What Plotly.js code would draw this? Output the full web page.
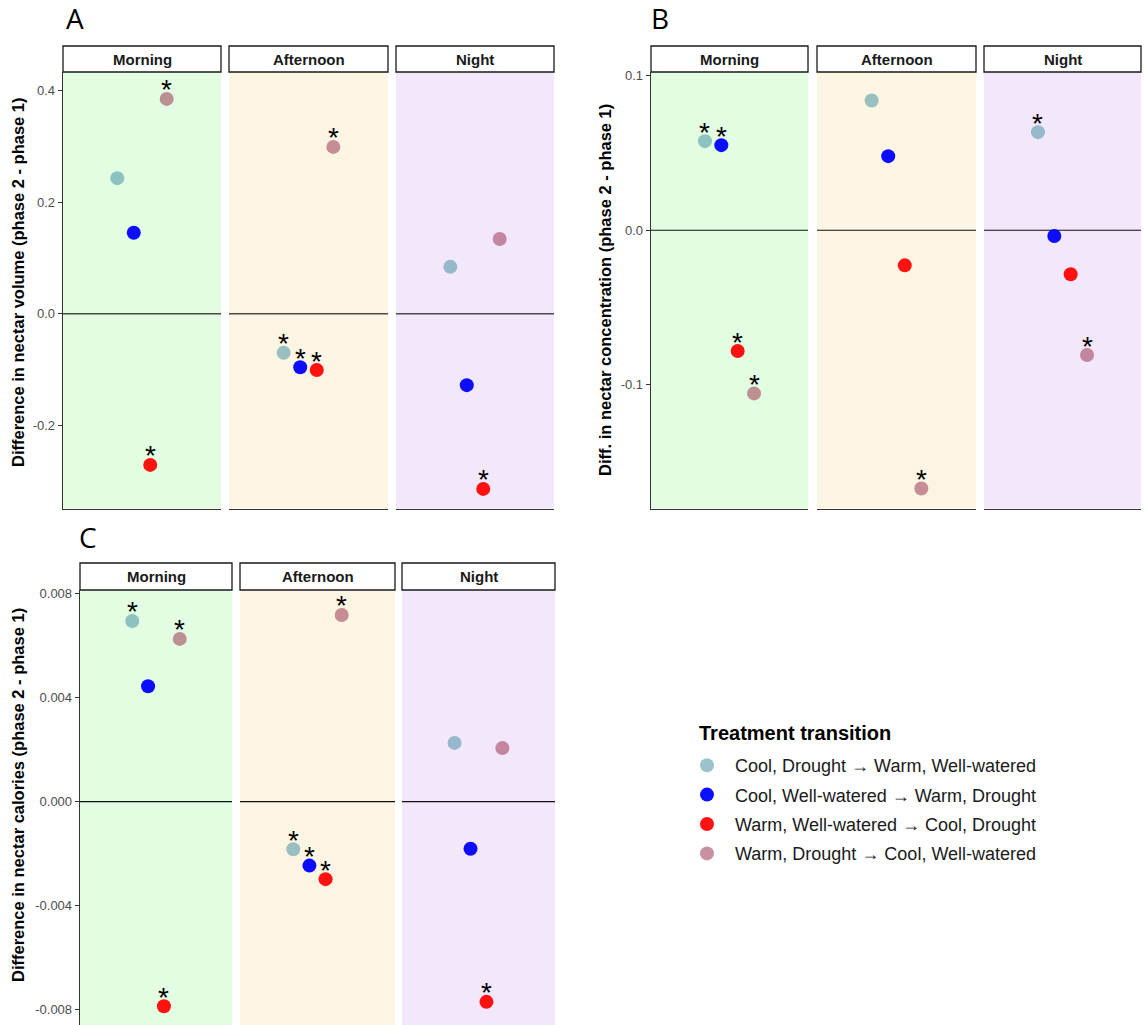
<!DOCTYPE html>
<html>
<head>
<meta charset="utf-8">
<script src="https://cdn.plot.ly/plotly-3.0.1.min.js"></script>
<style>
  html, body { margin: 0; padding: 0; background: #ffffff; }
  #chart { width: 1144px; height: 1025px; }
</style>
</head>
<body>
<div id="chart"></div>
<script>
// Facets and treatment groups
const timesOfDay = ['Morning', 'Afternoon', 'Night'];
const transitions = [
  'Cool, Drought \u2192 Warm, Well-watered',
  'Cool, Well-watered \u2192 Warm, Drought',
  'Warm, Well-watered \u2192 Cool, Drought',
  'Warm, Drought \u2192 Cool, Well-watered'
];
const legendTitle = 'Treatment transition';

// Nectar volume difference (phase 2 - phase 1), in transition order
const volumeMorning   = [0.243, 0.145, -0.271, 0.385];
const volumeAfternoon = [-0.070, -0.096, -0.101, 0.299];
const volumeNight     = [0.084, -0.128, -0.314, 0.134];
const volumeSignif    = [[0, 0, 1, 1], [1, 1, 1, 1], [0, 0, 1, 0]];

// Nectar concentration difference
const concMorning   = [0.0576, 0.0550, -0.0781, -0.1055];
const concAfternoon = [0.0839, 0.0479, -0.0227, -0.1670];
const concNight     = [0.0634, -0.0037, -0.0285, -0.0807];
const concSignif    = [[1, 1, 1, 1], [0, 0, 0, 1], [1, 0, 0, 1]];

// Nectar calories difference
const calMorning   = [0.00695, 0.00444, -0.00787, 0.00626];
const calAfternoon = [-0.00183, -0.00246, -0.00298, 0.00718];
const calNight     = [0.00226, -0.00181, -0.00770, 0.00206];
const calSignif    = [[1, 0, 1, 1], [1, 1, 1, 1], [0, 0, 1, 0]];

// Y tick labels
const volumeTicks = [-0.2, 0, 0.2, 0.4];
const volumeTickText = ['-0.2', '0.0', '0.2', '0.4'];
const concTicks = [-0.1, 0, 0.1];
const concTickText = ['-0.1', '0.0', '0.1'];
const calTicks = [-0.008, -0.004, 0, 0.004, 0.008];
const calTickText = ['-0.008', '-0.004', '0.000', '0.004', '0.008'];

// ---- styling ----
const W = 1144, H = 1025;
const FONT = 'Liberation Sans, Arial, Helvetica, sans-serif';
const transitionColors = [
  'rgba(73,145,164,0.55)',
  'rgba(0,0,255,0.95)',
  'rgba(255,0,0,0.93)',
  'rgba(155,55,82,0.55)'
];
const facetFills = ['#E3FDE3', '#FDF5E4', '#F3E7FB'];
const dodgeStep = 0.125;   // dodge width 0.5 split over 4 groups
const starShift = 9;

const panels = [
  {
    letter: 'A', title: 'Difference in nectar volume (phase 2 - phase 1)',
    values: [volumeMorning, volumeAfternoon, volumeNight], signif: volumeSignif,
    ticks: volumeTicks, tickText: volumeTickText, range: [-0.3491, 0.4332],
    facets: [[63, 221], [229, 388], [396, 554]], top: 72, bottom: 508.5, stripTop: 46,
    bottomLine: true, zeroColor: '#4a4a4a', zeroWidth: 1.5,
    titleX: 18, titleY: 282, letterX: 75, letterY: 18
  },
  {
    letter: 'B', title: 'Diff. in nectar concentration (phase 2 - phase 1)',
    values: [concMorning, concAfternoon, concNight], signif: concSignif,
    ticks: concTicks, tickText: concTickText, range: [-0.1799, 0.1023],
    facets: [[651, 808], [817, 976], [984, 1141]], top: 72, bottom: 508.5, stripTop: 46,
    bottomLine: true, zeroColor: '#111111', zeroWidth: 1.2,
    titleX: 605, titleY: 290, letterX: 660, letterY: 18
  },
  {
    letter: 'C', title: 'Difference in nectar calories (phase 2 - phase 1)',
    values: [calMorning, calAfternoon, calNight], signif: calSignif,
    ticks: calTicks, tickText: calTickText, range: [-0.00859, 0.00814],
    facets: [[80, 232], [240, 395], [402, 555]], top: 590, bottom: 1025, stripTop: 563,
    bottomLine: false, zeroColor: '#111111', zeroWidth: 1.2,
    titleX: 18, titleY: 795, letterX: 88, letterY: 537
  }
];

const traces = [];
const shapes = [];
const annotations = [];
const layout = {
  width: W, height: H,
  margin: { l: 0, r: 0, t: 0, b: 0 },
  paper_bgcolor: '#ffffff',
  plot_bgcolor: 'rgba(0,0,0,0)',
  font: { family: FONT, color: '#000000' },
  showlegend: true,
  legend: {
    x: 679 / W, y: 1 - 747 / H, xanchor: 'left', yanchor: 'top',
    bgcolor: 'rgba(0,0,0,0)', borderwidth: 0,
    font: { family: FONT, size: 18, color: '#1a1a1a' },
    itemwidth: 46, tracegroupgap: 3
  }
};

const yFrac = py => 1 - py / H;

panels.forEach((p, pi) => {
  p.facets.forEach((fx, fi) => {
    const n = pi * 3 + fi + 1;
    const xs = n === 1 ? 'x' : 'x' + n;
    const ys = n === 1 ? 'y' : 'y' + n;
    const xName = n === 1 ? 'xaxis' : 'xaxis' + n;
    const yName = n === 1 ? 'yaxis' : 'yaxis' + n;

    layout[xName] = {
      domain: [fx[0] / W, fx[1] / W], range: [0.4, 1.6], anchor: ys,
      showticklabels: false, ticks: '', showgrid: false, zeroline: false,
      showline: p.bottomLine, linecolor: '#333333', linewidth: 1.3, fixedrange: true
    };
    layout[yName] = {
      domain: [yFrac(p.bottom), yFrac(p.top)], range: p.range, anchor: xs,
      showgrid: false, zeroline: false, fixedrange: true,
      showline: fi === 0, linecolor: '#333333', linewidth: 1.3,
      tickmode: 'array', tickvals: p.ticks, ticktext: p.tickText,
      showticklabels: fi === 0, ticks: fi === 0 ? 'outside' : '',
      ticklen: 4, tickcolor: '#333333', tickwidth: 1,
      tickfont: { family: FONT, size: 13, color: '#4d4d4d' }
    };

    // facet background
    shapes.push({
      type: 'rect', layer: 'below', xref: xs + ' domain', yref: ys + ' domain',
      x0: 0, x1: 1, y0: 0, y1: 1, fillcolor: facetFills[fi], line: { width: 0 }
    });
    // reference line at zero
    shapes.push({
      type: 'line', layer: 'below', xref: xs + ' domain', yref: ys,
      x0: 0, x1: 1, y0: 0, y1: 0, line: { color: p.zeroColor, width: p.zeroWidth }
    });
    // facet strip
    shapes.push({
      type: 'rect', xref: 'paper', yref: 'paper',
      x0: fx[0] / W, x1: fx[1] / W, y0: yFrac(p.top), y1: yFrac(p.stripTop),
      fillcolor: '#ffffff', line: { color: '#1a1a1a', width: 1.3 }
    });
    annotations.push({
      xref: 'paper', yref: 'paper', x: (fx[0] + fx[1]) / 2 / W, y: yFrac((p.top + p.stripTop) / 2),
      text: timesOfDay[fi], showarrow: false, xanchor: 'center', yanchor: 'middle',
      font: { family: FONT, size: 15, weight: 'bold', color: '#1a1a1a' }
    });

    transitions.forEach((name, t) => {
      const xv = 1 + (t - 1.5) * dodgeStep;
      const yv = p.values[fi][t];
      traces.push({
        type: 'scatter', mode: 'markers', name: name, legendgroup: 'g' + t,
        showlegend: n === 1, x: [xv], y: [yv], xaxis: xs, yaxis: ys,
        marker: { size: 14, color: transitionColors[t], line: { width: 0 } },
        cliponaxis: false, hoverinfo: 'skip'
      });
      if (p.signif[fi][t]) {
        annotations.push({
          xref: xs, yref: ys, x: xv, y: yv, text: '*', showarrow: false,
          xanchor: 'center', yanchor: 'middle', yshift: starShift,
          font: { family: FONT, size: 28, color: '#000000' }
        });
      }
    });
  });

  // y-axis title
  annotations.push({
    xref: 'paper', yref: 'paper', x: p.titleX / W, y: yFrac(p.titleY),
    text: p.title, textangle: -90, showarrow: false, xanchor: 'center', yanchor: 'middle',
    font: { family: FONT, size: 16.5, weight: 'bold', color: '#000000' }
  });
  // panel letter
  annotations.push({
    xref: 'paper', yref: 'paper', x: p.letterX / W, y: yFrac(p.letterY),
    text: p.letter, showarrow: false, xanchor: 'center', yanchor: 'middle',
    font: { family: 'Open Sans, Noto Sans, sans-serif', size: 28, color: '#000000' }
  });
});

// legend heading
annotations.push({
  xref: 'paper', yref: 'paper', x: 697 / W, y: yFrac(733),
  text: legendTitle, showarrow: false, xanchor: 'left', yanchor: 'middle',
  font: { family: FONT, size: 20, weight: 'bold', color: '#000000' }
});

layout.shapes = shapes;
layout.annotations = annotations;

Plotly.newPlot('chart', traces, layout, { staticPlot: true, displayModeBar: false });
</script>
</body>
</html>
